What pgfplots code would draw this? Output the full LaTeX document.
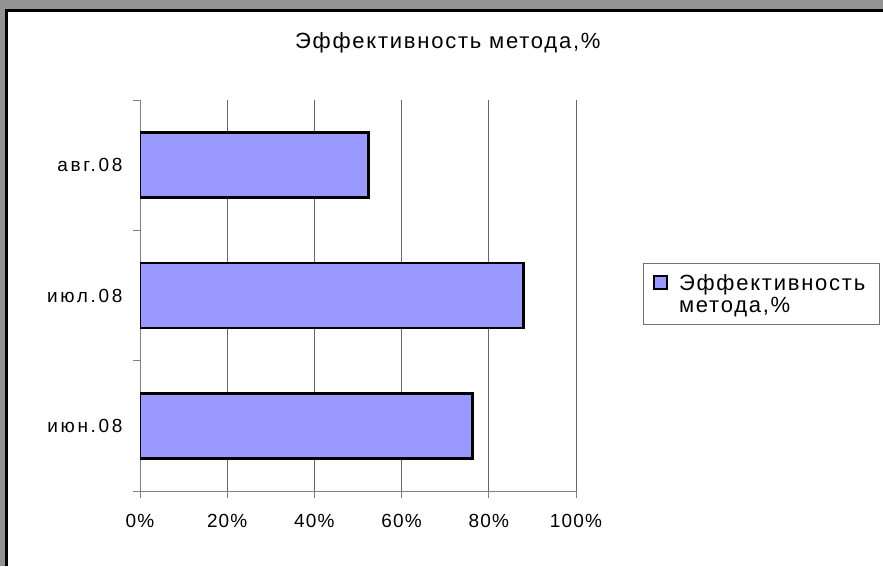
\documentclass[border=0pt]{standalone}
\usepackage{fontspec}
\setmainfont{Liberation Sans}
\newfontfamily\cf[LetterSpace=6]{Liberation Sans}
\newfontfamily\cfy[LetterSpace=14]{Liberation Sans}
\newfontfamily\cft[LetterSpace=8]{Liberation Sans}
\usepackage{pgfplots}
\pgfplotsset{compat=1.18}
\definecolor{barblue}{HTML}{9999FF}
\definecolor{bggray}{HTML}{939393}
\begin{document}
\begin{tikzpicture}[x=1pt,y=1pt]
\path[use as bounding box] (0,0) rectangle (883,566);
\fill[bggray] (0,0) rectangle (883,566);
\fill[white] (8,0) rectangle (883,554);
\draw[black, line width=3pt] (6.5,0) -- (6.5,555.5) -- (883,555.5);
\begin{axis}[
 at={(140pt,75pt)}, anchor=south west,
 scale only axis, width=436pt, height=391pt,
 xbar, bar width=65pt,
 xmin=0, xmax=100, ymin=-0.5, ymax=2.5,
 axis x line*=bottom, axis y line*=left,
 axis line style={black!50, line width=1pt, -},
 xtick={0,20,40,60,80,100},
 xticklabels={0\%,20\%,40\%,60\%,80\%,100\%},
 ytick={0,1,2},
 yticklabels={июн.08,июл.08,авг.08},
 minor ytick={-0.5,0.5,1.5,2.5},
 tick align=outside,
 major tick length=7pt, minor tick length=7pt,
 major y tick style={draw=none},
 tick style={black!50, line width=1pt},
 xmajorgrids, grid style={black!60, line width=0.8pt},
 xticklabel style={font=\cf\fontsize{19}{22}\selectfont, yshift=-13pt},
 yticklabel style={font=\cfy\fontsize{19}{22}\selectfont, xshift=-7pt},
 every axis title shift=0pt,
 title={Эффективность метода,\%},
 title style={at={(axis description cs:0.706,1.1322)}, anchor=base, font=\cft\fontsize{22}{24}\selectfont},
 legend style={at={(axis description cs:1.1537,0.583)}, anchor=north west, draw=black!55, line width=1pt, font=\cft\fontsize{22}{22}\selectfont, cells={align=left}, inner xsep=5pt, inner ysep=9pt,
   /tikz/every odd column/.append style={column sep=9pt}},
 legend image code/.code={\path (0pt,12pt) (17pt,12pt);\draw[#1, line width=2pt] (4pt,5.5pt) rectangle (17pt,18.5pt);},
]
\addplot[fill=barblue, draw=black, line width=2.5pt] coordinates {(76.3,0) (87.9,1) (52.4,2)};
\addlegendentry{Эффективность\hspace*{7pt}\\метода,\%}
\end{axis}
\end{tikzpicture}
\end{document}
